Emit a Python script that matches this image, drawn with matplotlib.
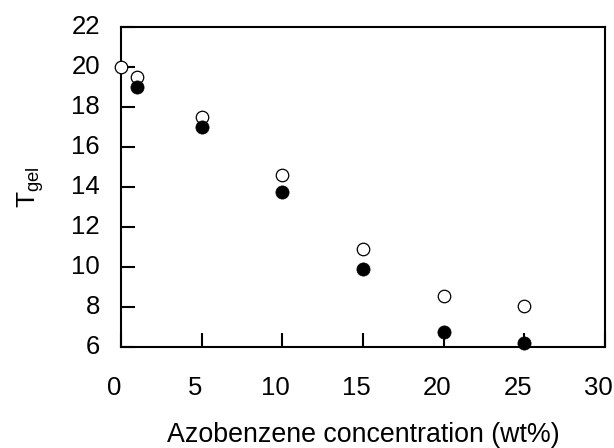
import matplotlib
matplotlib.use("Agg")
import matplotlib.pyplot as plt
import matplotlib.transforms as mtrans

# データ
conc_open = [0, 1, 5, 10, 15, 20, 25]
tgel_open = [20.0, 19.5, 17.5, 14.6, 10.9, 8.55, 8.05]
conc_filled = [1, 5, 10, 15, 20, 25]
tgel_filled = [19.0, 17.0, 13.75, 9.9, 6.75, 6.18]

x_ticks = [0, 5, 10, 15, 20, 25, 30]
y_ticks = [6, 8, 10, 12, 14, 16, 18, 20, 22]

plt.rcParams['font.family'] = ['Liberation Sans', 'DejaVu Sans']
plt.rcParams['mathtext.fontset'] = 'custom'
plt.rcParams['mathtext.rm'] = 'Liberation Sans'
plt.rcParams['mathtext.it'] = 'Liberation Sans:italic'

fig = plt.figure(figsize=(6.14, 4.48), dpi=100)
ax = fig.add_axes([0.197, 0.2254, 0.7883, 0.7143])

# 白丸 → 黒丸 の順に描く (黒丸が上)
ax.plot(conc_open, tgel_open, linestyle='none', marker='o', markersize=9,
        markerfacecolor='white', markeredgecolor='black', markeredgewidth=0.9,
        clip_on=False, zorder=5)
ax.plot(conc_filled, tgel_filled, linestyle='none', marker='o', markersize=9.5,
        markerfacecolor='black', markeredgecolor='black', markeredgewidth=0.5,
        clip_on=False, zorder=6)

ax.set_xlim(0, 30)
ax.set_ylim(6, 22)
ax.set_xticks(x_ticks)
ax.set_yticks(y_ticks)

for s in ax.spines.values():
    s.set_linewidth(1.5)

ax.tick_params(axis='x', direction='in', length=10, width=1.5, labelsize=18.5, pad=21)
ax.tick_params(axis='y', direction='in', length=10, width=1.5, labelsize=18.5, pad=15)

# 目盛ラベルを少しずらす (元図に合わせる)
dx = mtrans.ScaledTranslation(-6.5 / 100, 0, fig.dpi_scale_trans)
for lab in ax.get_xticklabels():
    lab.set_transform(lab.get_transform() + dx)
dy = mtrans.ScaledTranslation(0, 3 / 100, fig.dpi_scale_trans)
for lab in ax.get_yticklabels():
    lab.set_transform(lab.get_transform() + dy)

ax.set_xlabel('Azobenzene concentration (wt%)', fontsize=19.3)
ax.set_ylabel(r'T$_{\mathrm{gel}}$', fontsize=19)
ax.xaxis.set_label_coords(0.5, -0.235)
ax.yaxis.set_label_coords(-0.155, 0.5)

plt.savefig('out.png', dpi=100)
plt.close()
